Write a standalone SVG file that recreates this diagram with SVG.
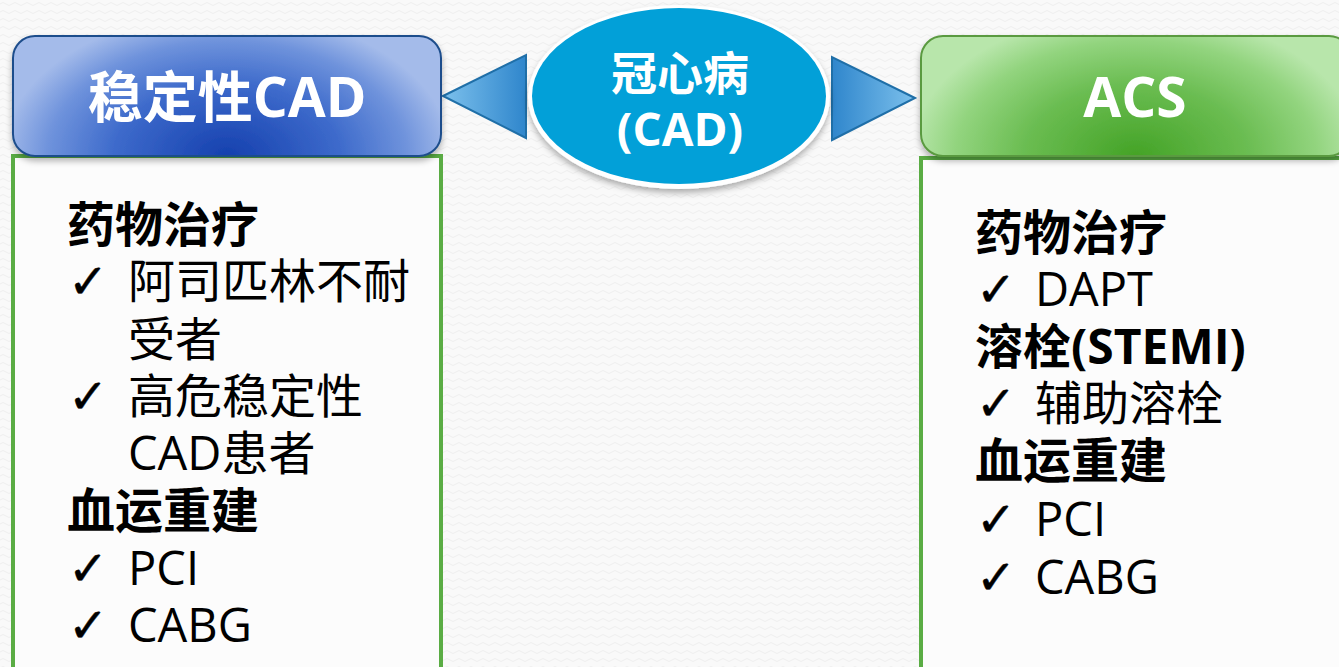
<svg xmlns="http://www.w3.org/2000/svg" width="1339" height="667" viewBox="0 0 1339 667">
<defs>
<radialGradient id="gBlue" cx="0.5" cy="1" r="0.75" gradientTransform="translate(0.5 1) scale(0.7 1.6) translate(-0.5 -1)">
<stop offset="0" stop-color="#1540ae"/>
<stop offset="0.5" stop-color="#3d6acb"/>
<stop offset="0.8" stop-color="#6f93dc"/>
<stop offset="1" stop-color="#a4bbea"/>
</radialGradient>
<radialGradient id="gGreen" cx="0.5" cy="1" r="0.75" gradientTransform="translate(0.5 1) scale(0.7 1.6) translate(-0.5 -1)">
<stop offset="0" stop-color="#44a326"/>
<stop offset="0.5" stop-color="#6bbd52"/>
<stop offset="0.8" stop-color="#92d47e"/>
<stop offset="1" stop-color="#b8e6ab"/>
</radialGradient>
<linearGradient id="gArrL" x1="0" y1="0" x2="1" y2="0">
<stop offset="0" stop-color="#7cc0ec"/>
<stop offset="1" stop-color="#2f86cc"/>
</linearGradient>
<linearGradient id="gArrR" x1="0" y1="0" x2="1" y2="0">
<stop offset="0" stop-color="#2f86cc"/>
<stop offset="1" stop-color="#7cc0ec"/>
</linearGradient>
<filter id="sh" x="-10%" y="-10%" width="120%" height="140%">
<feDropShadow dx="0" dy="4" stdDeviation="3" flood-color="#000" flood-opacity="0.3"/>
</filter>
<pattern id="bg" width="12" height="8" patternUnits="userSpaceOnUse">
<rect width="12" height="8" fill="#f9f9f9"/>
<path d="M0 4 Q3 1 6 4 T12 4" fill="none" stroke="#efefef" stroke-width="1"/>
</pattern>
</defs>
<style>
.t{font-family:"Open Sans","Noto Sans CJK SC",sans-serif;}
.hd{fill:#fff;font-weight:bold;text-anchor:middle;}
.body{font-size:47px;fill:#000;}
.b{font-weight:bold;font-size:48px;}
.ck{font-family:"DejaVu Sans",sans-serif;font-size:48px;fill:#000;stroke:#000;stroke-width:0.5;}
.box{fill:#fcfcfc;stroke:#5aac44;stroke-width:4;}
</style>
<rect width="1339" height="667" fill="url(#bg)"/>

<g id="connectors">
<polygon points="443,96 526,55 526,138" fill="url(#gArrL)" stroke="#1f6fa8" stroke-width="2"/>
<polygon points="915,98 832,57 832,140" fill="url(#gArrR)" stroke="#1f6fa8" stroke-width="2"/>
</g>

<g id="center">
<ellipse cx="679" cy="97" rx="151" ry="92" fill="#fff" filter="url(#sh)"/>
<ellipse cx="679" cy="96" rx="147" ry="88" fill="#02a0d8"/>
<text class="t hd" x="680" y="90" font-size="46">冠心病</text>
<text class="t hd" x="680" y="146" font-size="46">(CAD)</text>
</g>

<g id="left">
<rect class="box" x="13" y="156" width="428" height="514"/>
<rect x="13" y="36" width="428" height="120" rx="22" fill="url(#gBlue)" stroke="#1f4e8c" stroke-width="2" filter="url(#sh)"/>
<text class="t hd" x="227" y="117" font-size="55">稳定性CAD</text>
<text class="t body b" x="67" y="242">药物治疗</text>
<text class="ck" x="68" y="298">✓</text>
<text class="t body" x="128" y="298">阿司匹林不耐</text>
<text class="t body" x="128" y="356">受者</text>
<text class="ck" x="68" y="413">✓</text>
<text class="t body" x="128" y="413">高危稳定性</text>
<text class="t body" x="128" y="470">CAD患者</text>
<text class="t body b" x="67" y="528">血运重建</text>
<text class="ck" x="68" y="585">✓</text>
<text class="t body" x="128" y="585">PCI</text>
<text class="ck" x="68" y="642">✓</text>
<text class="t body" x="128" y="642">CABG</text>
</g>

<g id="right">
<rect class="box" x="921" y="158" width="430" height="512"/>
<rect x="921" y="36" width="430" height="120" rx="22" fill="url(#gGreen)" stroke="#5a9a40" stroke-width="2" filter="url(#sh)"/>
<text class="t hd" x="1135" y="117" font-size="55">ACS</text>
<text class="t body b" x="975" y="250">药物治疗</text>
<text class="ck" x="976" y="306">✓</text>
<text class="t body" x="1035" y="306">DAPT</text>
<text class="t body b" x="975" y="364">溶栓(STEMI)</text>
<text class="ck" x="976" y="420">✓</text>
<text class="t body" x="1035" y="420">辅助溶栓</text>
<text class="t body b" x="975" y="478">血运重建</text>
<text class="ck" x="976" y="536">✓</text>
<text class="t body" x="1035" y="536">PCI</text>
<text class="ck" x="976" y="594">✓</text>
<text class="t body" x="1035" y="594">CABG</text>
</g>
</svg>
